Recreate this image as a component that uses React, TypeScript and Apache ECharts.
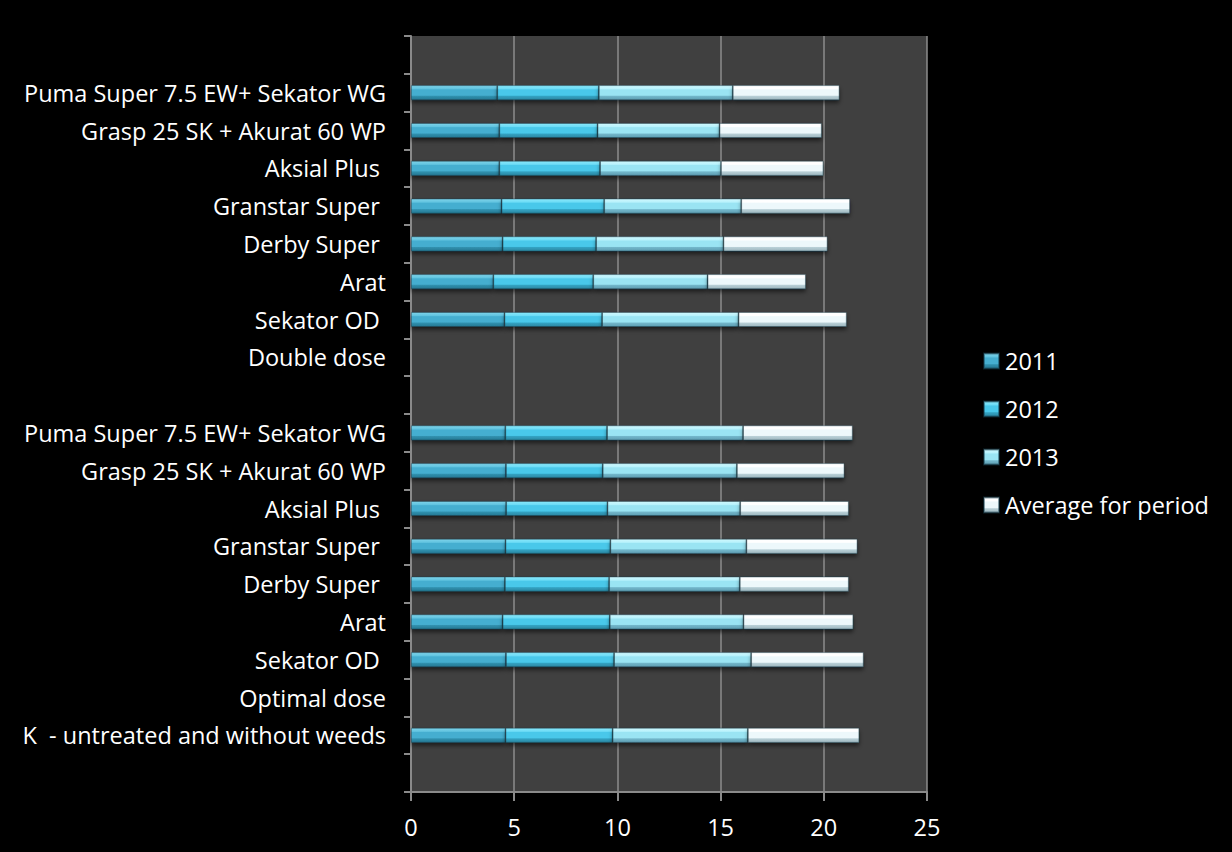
import React, { useEffect, useRef } from "react";
import * as echarts from "echarts";

const categories: string[] = [
  "",
  "Puma Super 7.5 EW+ Sekator WG",
  "Grasp 25 SK + Akurat 60 WP",
  "Aksial Plus ",
  "Granstar Super ",
  "Derby Super ",
  "Arat",
  "Sekator OD ",
  "Double dose",
  "",
  "Puma Super 7.5 EW+ Sekator WG",
  "Grasp 25 SK + Akurat 60 WP",
  "Aksial Plus ",
  "Granstar Super ",
  "Derby Super ",
  "Arat",
  "Sekator OD ",
  "Optimal dose",
  "K  - untreated and without weeds",
  "",
];

const seriesNames: string[] = ["2011", "2012", "2013", "Average for period"];

const values2011: (number | null)[] = [null, 4.18, 4.28, 4.28, 4.39, 4.44, 3.99, 4.53, null, null, 4.57, 4.6, 4.61, 4.58, 4.55, 4.44, 4.6, null, 4.58, null];
const values2012: (number | null)[] = [null, 4.92, 4.76, 4.88, 4.97, 4.53, 4.84, 4.73, null, null, 4.93, 4.69, 4.91, 5.08, 5.05, 5.19, 5.24, null, 5.19, null];
const values2013: (number | null)[] = [null, 6.49, 5.91, 5.86, 6.64, 6.17, 5.54, 6.61, null, null, 6.59, 6.5, 6.43, 6.59, 6.33, 6.48, 6.64, null, 6.55, null];
const valuesAverage: (number | null)[] = [null, 5.17, 4.95, 4.96, 5.27, 5.04, 4.76, 5.24, null, null, 5.31, 5.21, 5.26, 5.38, 5.28, 5.32, 5.45, null, 5.4, null];

const xTicks: number[] = [0, 5, 10, 15, 20, 25];

const FONT = "'Open Sans', sans-serif";
const FS = 23.5;

function bevel(top: string, hi: string, main: string, low: string, dark: string) {
  return new echarts.graphic.LinearGradient(0, 0, 0, 1, [
    { offset: 0, color: top },
    { offset: 0.22, color: hi },
    { offset: 0.3, color: main },
    { offset: 0.68, color: main },
    { offset: 0.75, color: low },
    { offset: 1, color: dark },
  ]);
}

export default function App() {
  const ref = useRef<HTMLDivElement>(null);
  useEffect(() => {
    document.body.style.margin = "0";
    document.body.style.background = "#000";
    const chart = echarts.init(ref.current!, null, { renderer: "svg" });
    const colors = [
      bevel("#7fd3ea", "#62c4e0", "#45aed0", "#3090ae", "#257893"),
      bevel("#8ae8fb", "#6ddcf6", "#48c8ea", "#33a2c2", "#2a87a2"),
      bevel("#d0f8fe", "#b8f2fc", "#9ae4f3", "#72b6ca", "#5e9eb2"),
      bevel("#ffffff", "#ffffff", "#edf8fb", "#b8cfd6", "#9db6be"),
    ];
    const dataArrays = [values2011, values2012, values2013, valuesAverage];
    chart.setOption({
      animation: false,
      backgroundColor: "#000000",
      textStyle: { fontFamily: FONT },
      grid: {
        left: 411,
        right: 305,
        top: 36,
        bottom: 60,
        show: true,
        backgroundColor: "#404040",
        borderWidth: 0,
      },
      legend: {
        orient: "vertical",
        left: 983,
        top: 349,
        padding: 0,
        itemWidth: 15,
        itemHeight: 15,
        itemGap: 24,
        icon: "rect",
        textStyle: { color: "#ffffff", fontSize: FS, fontFamily: FONT, padding: [0, 0, 0, 1] },
        data: seriesNames,
      },
      xAxis: {
        type: "value",
        min: xTicks[0],
        max: xTicks[xTicks.length - 1],
        interval: 5,
        axisLine: { show: true, lineStyle: { color: "#8a8a8a", width: 2 } },
        axisTick: { show: true, length: 9, lineStyle: { color: "#8a8a8a", width: 2 } },
        axisLabel: { color: "#ffffff", fontSize: FS, fontFamily: FONT, margin: 23 },
        splitLine: { show: true, lineStyle: { color: "#8c8c8c", width: 1.5 } },
      },
      yAxis: {
        type: "category",
        inverse: true,
        data: categories,
        axisLine: { show: true, lineStyle: { color: "#8a8a8a", width: 2 } },
        axisTick: { show: true, length: 7, lineStyle: { color: "#8a8a8a", width: 2 } },
        axisLabel: {
          color: "#ffffff",
          fontSize: FS,
          fontFamily: FONT,
          margin: 25,
          interval: 0,
        },
        splitLine: { show: false },
      },
      series: seriesNames.map((name, i) => ({
        name,
        type: "bar",
        stack: "total",
        barWidth: 15,
        data: dataArrays[i],
        itemStyle: {
          color: colors[i],
          borderColor: "rgba(20,60,75,0.5)",
          borderWidth: 0.8,
          shadowBlur: 4,
          shadowOffsetY: 3,
          shadowColor: "rgba(0,0,0,0.55)",
        },
      })),
    });
    return () => chart.dispose();
  }, []);
  return (
    <div
      ref={ref}
      style={{ position: "absolute", left: 0, top: 0, width: 1232, height: 852, background: "#000" }}
    />
  );
}
